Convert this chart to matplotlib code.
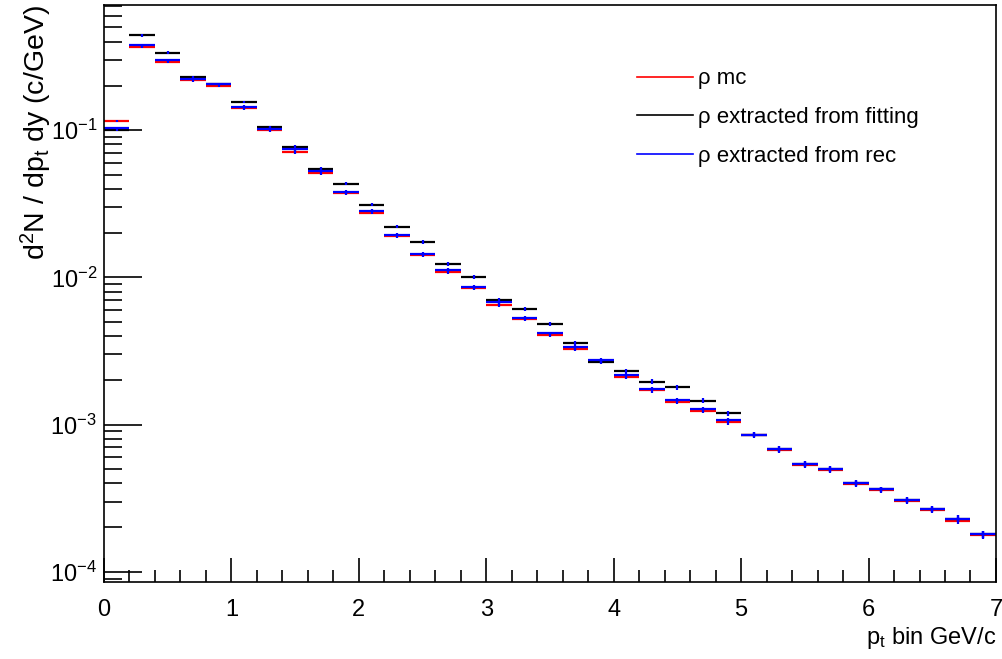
import numpy as np
import matplotlib
matplotlib.use("Agg")
import matplotlib.pyplot as plt
from matplotlib.ticker import FixedLocator, NullFormatter

plt.rcParams['font.family'] = ['Liberation Sans', 'DejaVu Sans']
plt.rcParams['mathtext.fontset'] = 'custom'
plt.rcParams['mathtext.rm'] = 'Liberation Sans'
plt.rcParams['mathtext.it'] = 'Liberation Sans:italic'

# pt bins, 0.2 GeV/c wide
bin_width = 0.2
bin_lo = np.round(np.arange(0, 7.0, bin_width), 2)

rho_mc = [0.116, 0.370, 0.291, 0.218, 0.200, 0.141, 0.100, 0.0712, 0.0513, 0.0372,
          0.0276, 0.0190, 0.0141, 0.01086, 0.00848, 0.00652, 0.00520, 0.00407, 0.00328, 0.00270,
          0.00210, 0.00171, 0.00143, 0.00124, 0.00104, 0.000845, 0.000672, 0.000530, 0.000494, 0.000394,
          0.000361, 0.000304, 0.000264, 0.000223, 0.000179]
rho_fit = [0.1005, 0.440, 0.337, 0.229, 0.206, 0.155, 0.105, 0.0770, 0.0549, 0.0432,
           0.0311, 0.0221, 0.01746, 0.0123, 0.0101, 0.00705, 0.00612, 0.00485, 0.00358, 0.00268,
           0.00231, 0.00196, 0.00179, 0.001455, 0.001194, 0.000855, 0.000683, 0.000540, 0.000497, 0.000400,
           0.000363, 0.000307, 0.000268, 0.000229, 0.000180]
rho_rec = [0.1043, 0.377, 0.2985, 0.223, 0.206, 0.1448, 0.1027, 0.0740, 0.0532, 0.0381,
           0.0284, 0.0195, 0.01445, 0.0113, 0.00862, 0.00676, 0.00532, 0.00416, 0.00335, 0.00273,
           0.00217, 0.00175, 0.00147, 0.00127, 0.00107, 0.000855, 0.000683, 0.000540, 0.000497, 0.000400,
           0.000363, 0.000307, 0.000268, 0.000229, 0.000180]
# relative stat. error per bin
rel_err = [0.015, 0.02, 0.02, 0.02, 0.02, 0.02, 0.02, 0.025, 0.025, 0.025,
           0.025, 0.025, 0.03, 0.03, 0.03, 0.03, 0.03, 0.03, 0.035, 0.035,
           0.035, 0.035, 0.035, 0.04, 0.04, 0.04, 0.04, 0.045, 0.045, 0.045,
           0.045, 0.05, 0.05, 0.055, 0.06]

series = [
    (rho_mc, '#ff0000', 'ρ mc'),
    (rho_fit, '#000000', 'ρ extracted from fitting'),
    (rho_rec, '#0000ff', 'ρ extracted from rec'),
]

fig = plt.figure(figsize=(10.03, 6.59), dpi=100)
ax = fig.add_axes([0.1037, 0.117, 0.8893, 0.875])

centers = bin_lo + bin_width / 2
err = np.array(rel_err)
handles = []
for vals, col, lab in series:
    v = np.array(vals)
    ax.hlines(v, bin_lo, bin_lo + bin_width, colors=col, lw=1.6)
    h, = ax.plot([], [], color=col, lw=1.2, label=lab)
    handles.append(h)
for vals, col, lab in series:
    v = np.array(vals)
    ax.vlines(centers, v * (1 - err), v * (1 + err), colors='#0000ff', lw=1.6)

ax.set_yscale('log')
ax.set_xlim(0, 7)
ax.set_ylim(8.54e-5, 0.706)

ax.yaxis.set_major_locator(FixedLocator([1e-4, 1e-3, 1e-2, 1e-1]))
ax.set_yticklabels([r'$10^{-4}$', r'$10^{-3}$', r'$10^{-2}$', r'$10^{-1}$'])
minors = [m * 10.0 ** e for e in range(-5, 0) for m in range(2, 10)]
ax.yaxis.set_minor_locator(FixedLocator(minors))
ax.yaxis.set_minor_formatter(NullFormatter())
ax.xaxis.set_major_locator(FixedLocator(range(0, 8)))
ax.xaxis.set_minor_locator(FixedLocator(np.arange(0, 7.01, 0.2)))

ax.tick_params(axis='both', which='both', direction='in', top=False, right=False,
               labelsize=17, width=1.2)
ax.tick_params(axis='y', which='major', length=27, pad=5)
ax.tick_params(axis='y', which='minor', length=13)
ax.tick_params(axis='x', which='major', length=17, pad=12)
ax.tick_params(axis='x', which='minor', length=9)
for s in ax.spines.values():
    s.set_linewidth(1.2)

ax.set_xlabel(r'p$_{\mathregular{t}}$ bin GeV/c', fontsize=17, loc='right', labelpad=3)
ax.set_ylabel(r'd$^{\mathregular{2}}$N / dp$_{\mathregular{t}}$ dy (c/GeV)', fontsize=20.5, loc='top')
ax.yaxis.set_label_coords(-0.056, 1.0)

ax.legend(handles=handles, loc='upper left', bbox_to_anchor=(0.5975, 0.8905), frameon=False,
          fontsize=16, handlelength=2.5, handletextpad=0.25, labelspacing=0.79,
          borderpad=0, borderaxespad=0)

fig.savefig('out.png', dpi=100)
